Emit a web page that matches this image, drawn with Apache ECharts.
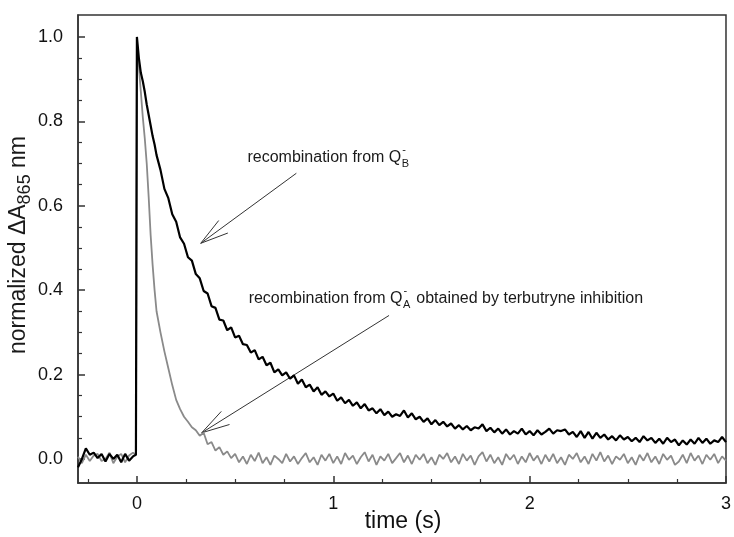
<!DOCTYPE html>
<html><head><meta charset="utf-8">
<script src="https://cdn.jsdelivr.net/npm/echarts@6/dist/echarts.min.js"></script>
<style>html,body{margin:0;padding:0;background:#fff}#c{width:734px;height:537px}</style>
</head><body><div id="c"></div>
<script>
// ---- data (time in s, normalized ΔA865) ----
const time = [
-0.3,-0.28,-0.26,-0.24,-0.22,-0.2,-0.18,-0.16,-0.14,-0.12,-0.1,-0.08,-0.06,-0.04,-0.02,-0.005,
0,0.01,0.02,0.03,0.04,0.05,0.06,0.07,0.08,0.09,0.1,
0.12,0.14,0.16,0.18,0.2,0.22,0.24,0.26,0.28,0.3,0.32,0.34,0.36,0.38,0.4,0.42,0.44,0.46,0.48,
0.5,0.52,0.54,0.56,0.58,0.6,0.62,0.64,0.66,0.68,
0.7,0.72,0.74,0.76,0.78,0.8,0.82,0.84,0.86,0.88,
0.9,0.92,0.94,0.96,0.98,1.0,1.02,1.04,1.06,1.08,
1.1,1.12,1.14,1.16,1.18,1.2,1.22,1.24,1.26,1.28,
1.3,1.32,1.34,1.36,1.38,1.4,1.42,1.44,1.46,1.48,
1.5,1.52,1.54,1.56,1.58,1.6,1.62,1.64,1.66,1.68,
1.7,1.72,1.74,1.76,1.78,1.8,1.82,1.84,1.86,1.88,
1.9,1.92,1.94,1.96,1.98,2.0,2.02,2.04,2.06,2.08,
2.1,2.12,2.14,2.16,2.18,2.2,2.22,2.24,2.26,2.28,
2.3,2.32,2.34,2.36,2.38,2.4,2.42,2.44,2.46,2.48,
2.5,2.52,2.54,2.56,2.58,2.6,2.62,2.64,2.66,2.68,
2.7,2.72,2.74,2.76,2.78,2.8,2.82,2.84,2.86,2.88,
2.9,2.92,2.94,2.96,2.98,3.0
];
// recombination from QB- (black)
const qbSignal = [
-0.02,0.0,0.025,0.01,0.015,0.002,0.012,-0.006,0.012,0.0,0.01,-0.008,0.012,-0.004,0.006,0.01,
1.0,0.95,0.915,0.895,0.87,0.84,0.815,0.79,0.765,0.745,0.72,
0.685,0.64,0.618,0.58,0.562,0.525,0.51,0.478,0.47,0.438,0.428,0.398,0.392,0.362,0.358,0.33,0.328,0.305,0.312,
0.288,0.292,0.272,0.27,0.252,0.258,0.236,0.242,0.222,0.228,
0.205,0.212,0.198,0.205,0.19,0.198,0.178,0.188,0.17,0.176,
0.16,0.17,0.152,0.16,0.148,0.155,0.138,0.146,0.132,0.14,
0.126,0.134,0.12,0.13,0.115,0.12,0.108,0.118,0.104,0.112,
0.1,0.106,0.102,0.115,0.098,0.108,0.094,0.1,0.088,0.096,
0.082,0.092,0.08,0.088,0.077,0.084,0.072,0.08,0.07,0.078,
0.068,0.075,0.072,0.082,0.066,0.074,0.063,0.072,0.06,0.07,
0.058,0.066,0.06,0.072,0.058,0.066,0.056,0.068,0.058,0.064,
0.072,0.06,0.068,0.066,0.07,0.058,0.064,0.052,0.066,0.05,
0.064,0.048,0.062,0.05,0.058,0.046,0.054,0.044,0.056,0.046,
0.052,0.042,0.05,0.04,0.054,0.044,0.05,0.038,0.048,0.036,
0.05,0.04,0.046,0.032,0.044,0.034,0.046,0.036,0.05,0.038,
0.048,0.036,0.044,0.04,0.052,0.04
];
// recombination from QA- with terbutryne (grey)
const qaSignal = [
0.005,-0.01,0.01,-0.005,0.008,0.012,-0.005,0.0,0.015,-0.01,0.005,0.012,-0.008,0.008,0.015,0.01,
0.99,0.93,0.87,0.81,0.76,0.7,0.62,0.53,0.46,0.4,0.35,
0.3,0.255,0.215,0.175,0.14,0.118,0.1,0.088,0.075,0.068,0.055,0.062,0.035,0.04,0.02,0.028,0.01,0.018,0.002,
0.012,-0.008,0.006,-0.012,0.01,-0.005,0.015,-0.01,0.004,-0.014,
0.008,0.0,-0.01,0.012,-0.006,0.006,-0.012,0.002,0.014,-0.008,
0.004,-0.014,0.01,-0.004,0.012,-0.01,0.006,-0.012,0.014,-0.002,
0.008,-0.012,0.004,0.016,-0.006,0.01,-0.014,0.006,-0.004,0.012,
-0.01,0.002,0.014,-0.008,0.008,-0.012,0.01,-0.002,0.012,-0.01,
0.004,-0.014,0.01,0.0,0.014,-0.008,0.006,-0.012,0.012,-0.004,
0.008,-0.014,0.006,0.016,-0.006,0.01,-0.01,0.004,-0.014,0.012,
-0.002,0.01,-0.012,0.006,-0.008,0.014,-0.004,0.008,-0.012,0.01,
-0.006,0.012,-0.01,0.004,-0.014,0.01,0.0,0.014,-0.008,0.006,
-0.012,0.012,-0.004,0.016,-0.006,0.008,-0.012,0.006,-0.002,0.012,
-0.01,0.004,-0.014,0.01,-0.004,0.014,-0.008,0.006,-0.012,0.012,
-0.002,0.008,-0.014,-0.006,0.01,-0.01,0.014,-0.004,0.008,-0.012,
0.01,-0.002,0.012,-0.01,0.006,-0.004
];
const xMajorTicks = [0, 1, 2, 3];
const xMinorTicks = [-0.25, 0.25, 0.5, 0.75, 1.25, 1.5, 1.75, 2.25, 2.5, 2.75];
const yMajorTicks = [0, 0.2, 0.4, 0.6, 0.8, 1.0];
const yMinorTicks = [0.05, 0.1, 0.15, 0.25, 0.3, 0.35, 0.45, 0.5, 0.55, 0.65, 0.7, 0.75, 0.85, 0.9, 0.95];
// annotation anchors (data coordinates)
const noteQB = {text: [0.563, 0.713], tail: [0.812, 0.677], tip: [0.325, 0.511]};
const noteQA = {text: [0.569, 0.38], tail: [1.284, 0.34], tip: [0.33, 0.062]};

const FONT = '"Liberation Sans", Arial, sans-serif';
const AX = '#333';
const chart = echarts.init(document.getElementById('c'), null, {renderer: 'canvas'});

function valAxis(min, max, major, minor, isX, fmt) {
  return [{
    type: 'value', min: min, max: max, gridIndex: 0,
    position: isX ? 'bottom' : 'left',
    axisLine: {show: true, onZero: false, lineStyle: {color: AX, width: 1.5}},
    axisTick: {show: true, inside: true, length: 7, customValues: major, lineStyle: {color: AX, width: 1.5}},
    axisLabel: {show: true, customValues: major, color: '#111', fontSize: 18, fontFamily: FONT, margin: isX ? 12 : 15, formatter: fmt},
    splitLine: {show: false}
  }, {
    type: 'value', min: min, max: max, gridIndex: 0,
    position: isX ? 'bottom' : 'left',
    axisLine: {show: false, onZero: false},
    axisTick: {show: true, inside: true, length: 4, customValues: minor, lineStyle: {color: AX, width: 1.2}},
    axisLabel: {show: false},
    splitLine: {show: false}
  }];
}

const option = {
  animation: false,
  backgroundColor: '#fff',
  grid: {left: 78, top: 15, right: 6, bottom: 54, show: true, borderColor: AX, borderWidth: 1.5, backgroundColor: 'transparent'},
  xAxis: valAxis(-0.3, 3, xMajorTicks, xMinorTicks, true, v => String(Math.round(v))),
  yAxis: valAxis(-0.057, 1.052, yMajorTicks, yMinorTicks, false, v => v.toFixed(1)),
  series: [
    {type: 'line', xAxisIndex: 0, yAxisIndex: 0, showSymbol: false, symbol: 'none',
     data: time.map((t, i) => [t, qaSignal[i]]), lineStyle: {color: '#8a8a8a', width: 1.8}, z: 2},
    {type: 'line', xAxisIndex: 0, yAxisIndex: 0, showSymbol: false, symbol: 'none',
     data: time.map((t, i) => [t, qbSignal[i]]), lineStyle: {color: '#000', width: 2.2}, z: 3}
  ]
};
chart.setOption(option);

// ---- annotations ----
const ctx = document.createElement('canvas').getContext('2d');
function tw(s, size) { ctx.font = size + 'px "Liberation Sans"'; return ctx.measureText(s).width; }
function txt(s, x, y, size, extra) {
  return Object.assign({type: 'text', x: x, y: y, silent: true, style: {
    text: s, fontSize: size, fontFamily: FONT, fill: '#1a1a1a',
    align: 'left', textAlign: 'left', verticalAlign: 'middle', textVerticalAlign: 'middle'}}, extra || {});
}
const px = p => chart.convertToPixel({gridIndex: 0}, p);

function arrow(tailD, tipD) {
  const tail = px(tailD), tip = px(tipD);
  const a = Math.atan2(tail[1] - tip[1], tail[0] - tip[0]);
  const L = 29, s = 0.27;
  const b1 = [tip[0] + L * Math.cos(a + s), tip[1] + L * Math.sin(a + s)];
  const b2 = [tip[0] + L * Math.cos(a - s), tip[1] + L * Math.sin(a - s)];
  const st = {stroke: '#333', lineWidth: 1, fill: null};
  return [
    {type: 'polyline', silent: true, shape: {points: [tail, tip]}, style: st},
    {type: 'polyline', silent: true, shape: {points: [b1, tip, b2]}, style: st}
  ];
}

function note(anchorD, before, sub, after) {
  const p = px(anchorD);
  const F = 16, f2 = 11;
  const out = [txt(before, p[0], p[1], F)];
  const x2 = p[0] + tw(before, F);
  out.push(txt(sub, x2 + 0.5, p[1] + 6, f2));
  out.push(txt('-', x2 + 1, p[1] - 8, f2));
  if (after) out.push(txt(after, x2 + tw(sub, f2) + 2, p[1], F));
  return out;
}

const graphics = [];
graphics.push(...note(noteQB.text, 'recombination from Q', 'B', ''));
graphics.push(...arrow(noteQB.tail, noteQB.tip));
graphics.push(...note(noteQA.text, 'recombination from Q', 'A', ' obtained by terbutryne inhibition'));
graphics.push(...arrow(noteQA.tail, noteQA.tip));

// x axis title
graphics.push({type: 'text', x: 403, y: 522, silent: true, style: {text: 'time (s)', fontSize: 23, fontFamily: FONT, fill: '#111',
  align: 'center', textAlign: 'center', verticalAlign: 'middle', textVerticalAlign: 'middle'}});

// y axis title (rotated, with subscript)
const YF = 23, YS = 18;
const p1 = 'normalized \u0394A', p2 = '865', p3 = ' nm';
const w1 = tw(p1, YF), w2 = tw(p2, YS), w3 = tw(p3, YF);
const x0 = -(w1 + w2 + w3) / 2;
graphics.push({type: 'group', x: 19, y: 245, rotation: Math.PI / 2, silent: true, children: [
  txt(p1, x0, 0, YF),
  txt(p2, x0 + w1, 6, YS),
  txt(p3, x0 + w1 + w2, 0, YF)
]});

chart.setOption({graphic: graphics});
</script></body></html>
